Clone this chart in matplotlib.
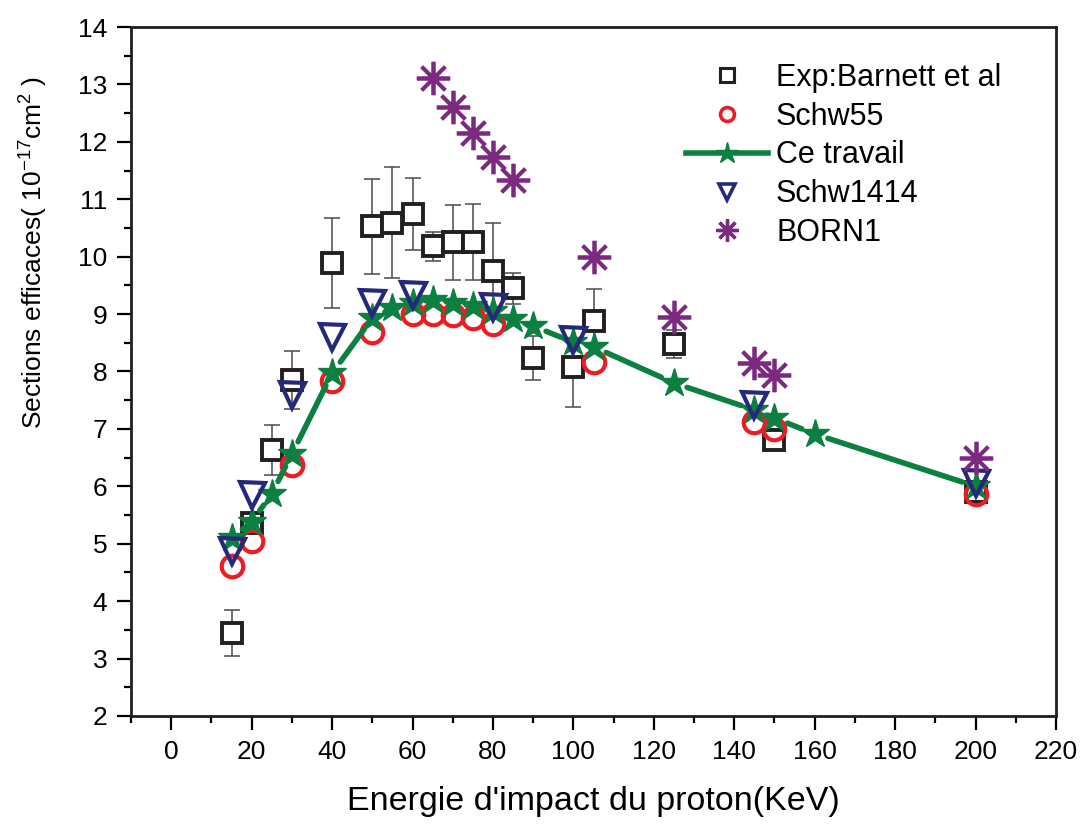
import numpy as np
import matplotlib
matplotlib.use('Agg')
import matplotlib.pyplot as plt
from matplotlib.lines import Line2D

plt.rcParams['font.family'] = ['Liberation Sans', 'DejaVu Sans']
plt.rcParams['mathtext.default'] = 'regular'

# Exp: Barnett et al (with error bars)
exp_x = [15, 20, 25, 30, 40, 50, 55, 60, 65, 70, 75, 80, 85, 90, 100, 105, 125, 150, 200]
exp_y = [3.44, 5.36, 6.63, 7.85, 9.89, 10.53, 10.59, 10.74, 10.18, 10.25, 10.25, 9.75, 9.45,
         8.23, 8.08, 8.88, 8.48, 6.80, 5.90]
exp_err = [0.40, 0.15, 0.43, 0.50, 0.78, 0.83, 0.97, 0.63, 0.25, 0.65, 0.66, 0.83, 0.27,
           0.38, 0.70, 0.55, 0.25, 0.10, 0.15]

# Schw55
s55_x = [15, 20, 30, 40, 50, 60, 65, 70, 75, 80, 105, 145, 150, 200]
s55_y = [4.61, 5.05, 6.38, 7.83, 8.68, 9.00, 9.00, 8.98, 8.93, 8.83, 8.16, 7.12, 6.99, 5.87]

# Ce travail
ct_x = [15, 20, 25, 30, 40, 50, 55, 60, 65, 70, 75, 80, 85, 90, 100, 105, 125, 145, 150, 160, 200]
ct_y = [5.10, 5.38, 5.87, 6.56, 7.97, 8.93, 9.10, 9.20, 9.24, 9.20, 9.14, 9.05, 8.91, 8.79,
        8.51, 8.43, 7.80, 7.33, 7.19, 6.91, 6.00]

# Schw1414
s14_x = [15, 20, 30, 40, 50, 60, 80, 100, 145, 200]
s14_y = [4.88, 5.85, 7.59, 8.60, 9.19, 9.33, 9.12, 8.55, 7.41, 6.05]

# BORN1
born_x = [65, 70, 75, 80, 85, 105, 125, 145, 150, 200]
born_y = [13.11, 12.61, 12.15, 11.74, 11.33, 10.00, 8.95, 8.14, 7.94, 6.49]

c_black = '#231f20'
c_red = '#ed1c24'
c_green = '#0b8040'
c_blue = '#25297a'
c_purple = '#7b2a80'

fig = plt.figure(figsize=(10.8, 8.26), dpi=100)
ax = fig.add_axes([0.1213, 0.1332, 0.8565, 0.8341])

ax.errorbar(exp_x, exp_y, yerr=exp_err, fmt='none', ecolor='#4a4a4a', elinewidth=1.1,
            capsize=6, capthick=1.1, zorder=2)
ax.plot(exp_x, exp_y, 's', ms=14, mfc='white', mec=c_black, mew=2.8, zorder=3)

ax.plot(s55_x, s55_y, 'o', ms=15.5, mfc='none', mec=c_red, mew=3.0, zorder=4)

# line segments with gaps around the markers
for i in range(len(ct_x) - 1):
    ax.annotate('', xy=(ct_x[i + 1], ct_y[i + 1]), xytext=(ct_x[i], ct_y[i]),
                arrowprops=dict(arrowstyle='-', color=c_green, lw=4.0,
                                shrinkA=10, shrinkB=10), zorder=5)
ax.plot(ct_x, ct_y, '*', ms=21, color=c_green, mec=c_green, zorder=6)

ax.plot(s14_x, s14_y, 'v', ms=18, mfc='none', mec=c_blue, mew=3.0, zorder=7)

ax.plot(born_x, born_y, marker=(8, 2, 0), ls='none', ms=24, mec=c_purple, mew=2.7, zorder=8)

ax.set_xlim(-10, 220)
ax.set_ylim(2, 14)
ax.set_xticks(np.arange(0, 221, 20))
ax.set_xticks(np.arange(-10, 221, 10), minor=True)
ax.set_yticks(np.arange(2, 15, 1))
ax.set_yticks(np.arange(2, 14.01, 0.5), minor=True)
ax.tick_params(which='major', direction='out', length=10, width=1.6, labelsize=19,
               top=False, right=False, pad=7)
ax.tick_params(which='minor', direction='out', length=5, width=1.6, top=False, right=False)
for s in ax.spines.values():
    s.set_linewidth(2.0)
    s.set_color(c_black)

ax.set_xlabel("Energie d'impact du proton(KeV)", fontsize=24.5, labelpad=16)
ax.set_ylabel('Sections efficaces( 10$^{-17}$cm$^{2}$ )', fontsize=19)
ax.yaxis.set_label_coords(-0.088, 0.673)

handles = [
    Line2D([], [], ls='none', marker='s', ms=10, mfc='white', mec=c_black, mew=2.2),
    Line2D([], [], ls='none', marker='o', ms=10, mfc='none', mec=c_red, mew=2.6),
    Line2D([], [], color=c_green, lw=4.0, marker='*', ms=16),
    Line2D([], [], ls='none', marker='v', ms=12, mfc='none', mec=c_blue, mew=2.6),
    Line2D([], [], ls='none', marker=(8, 2, 0), ms=16, mec=c_purple, mew=2.4),
]
labels = ['Exp:Barnett et al', 'Schw55', 'Ce travail', 'Schw1414', 'BORN1']
ax.legend(handles, labels, loc='upper left', bbox_to_anchor=(0.587, 0.966), frameon=False,
          fontsize=22, handlelength=2.68, handletextpad=0.26, labelspacing=0.29,
          borderaxespad=0)

fig.savefig('out.png', dpi=100)
